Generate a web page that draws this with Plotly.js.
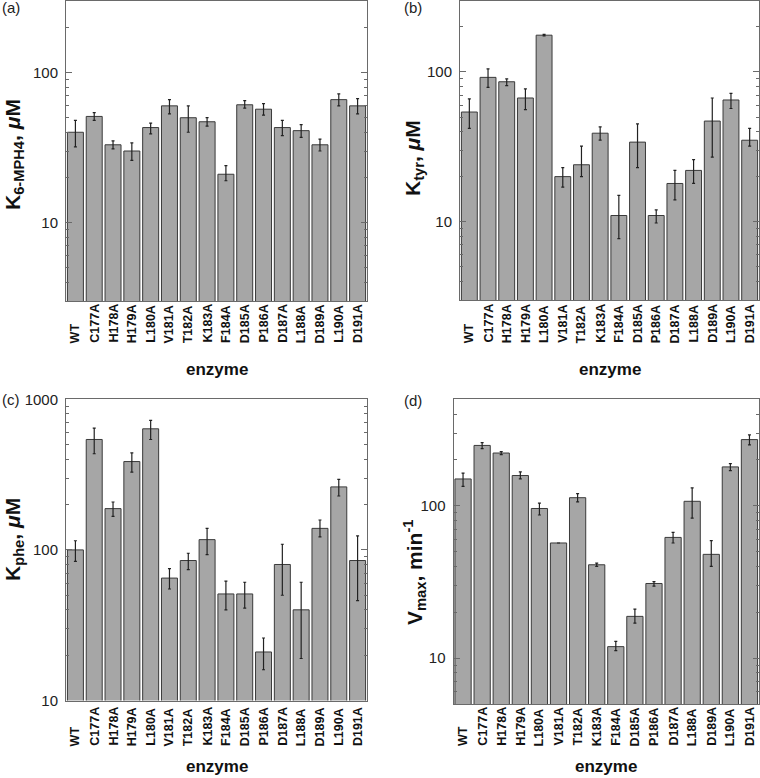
<!DOCTYPE html>
<html><head><meta charset="utf-8">
<script src="https://cdn.plot.ly/plotly-3.0.1.min.js"></script>
<style>html,body{margin:0;padding:0;background:#fff}#chart{width:760px;height:778px}</style>
</head><body><div id="chart"></div>
<script>
const enzymes = ['WT','C177A','H178A','H179A','L180A','V181A','T182A','K183A','F184A','D185A','P186A','D187A','L188A','D189A','L190A','D191A'];

// (a) K 6-MPH4 (µM): value, error-bar top, error-bar bottom
const kMph4   = [40, 51, 33, 30, 43, 60, 50, 47, 21, 61, 57, 43, 41, 33, 66, 60];
const kMph4Hi = [48, 54, 35, 34, 46, 66, 60, 50, 24, 65, 62, 48, 45, 36, 72, 67];
const kMph4Lo = [32, 48, 31, 26, 39, 53, 40, 44, 19, 58, 52, 38, 37, 30, 60, 53];

// (b) K tyr (µM)
const kTyr   = [54, 92, 86, 67, 176, 20, 24, 39, 11, 34, 11, 18, 22, 47, 65, 35];
const kTyrHi = [66, 105, 90, 77, 178, 23, 32, 43, 15, 45, 12, 22, 26, 67, 72, 42];
const kTyrLo = [42, 79, 81, 56, 174, 17, 20, 35, 7.7, 23, 9.8, 14, 18, 27, 57, 32];

// (c) K phe (µM)
const kPhe   = [100, 541, 188, 386, 637, 65, 85, 117, 51, 51, 21, 80, 40, 139, 262, 85];
const kPheHi = [115, 644, 208, 441, 724, 75, 95, 139, 62, 61, 26, 109, 61, 158, 294, 124];
const kPheLo = [84, 435, 167, 328, 541, 55, 74, 93, 40, 41, 16, 50, 19, 122, 228, 46];

// (d) Vmax (min^-1)
const vmax   = [150, 249, 222, 158, 96, 57, 113, 41, 11.9, 18.8, 30.9, 62, 107, 48, 180, 272];
const vmaxHi = [164, 260, 227, 167, 104, 57, 120, 42, 12.9, 21, 31.8, 67, 131, 59, 189, 292];
const vmaxLo = [134, 237, 217, 150, 87, 57, 106, 40, 11.2, 17, 29.7, 57, 83, 40, 170, 251];

// y-axis tick values
const majorAB = [10, 100];
const majorC = [10, 100, 1000];
const majorD = [10, 100];
const minorAB = [4,5,6,7,8,9,20,30,40,50,60,70,80,90,200,300];
const minorC = [20,30,40,50,60,70,80,90,200,300,400,500,600,700,800,900];
const minorD = [6,7,8,9,20,30,40,50,60,70,80,90,200,300,400,500];

const W = 760, H = 778;
const px = v => v / W;
const py = v => 1 - v / H;

function barTrace(vals, hi, lo, xa, ya) {
  return {
    type: 'bar', x: enzymes, y: vals, xaxis: xa, yaxis: ya,
    marker: {color: '#a6a6a6', line: {color: '#3a3a3a', width: 1}},
    error_y: {type: 'data', symmetric: false,
      array: hi.map((h, i) => h - vals[i]),
      arrayminus: lo.map((l, i) => vals[i] - l),
      color: '#222', thickness: 1.2, width: 1.5},
    hoverinfo: 'x+y', showlegend: false
  };
}

const data = [
  barTrace(kMph4, kMph4Hi, kMph4Lo, 'x', 'y'),
  barTrace(kTyr, kTyrHi, kTyrLo, 'x2', 'y2'),
  barTrace(kPhe, kPheHi, kPheLo, 'x3', 'y3'),
  barTrace(vmax, vmaxHi, vmaxLo, 'x4', 'y4')
];

const lineCol = '#6a6a6a';
const fam = 'Liberation Sans, Arial, sans-serif';
function xAx(d0, d1, anchor) {
  return {domain: [px(d0), px(d1)], anchor: anchor, type: 'category',
    range: [-0.5, 15.5], showticklabels: false, ticks: '',
    showline: true, mirror: true, linecolor: lineCol, linewidth: 1,
    showgrid: false, zeroline: false, fixedrange: true};
}
function yAx(top, bot, anchor, rng, majors) {
  return {domain: [py(bot), py(top)], anchor: anchor, type: 'log',
    range: rng.map(Math.log10), tickmode: 'array', tickvals: majors,
    ticktext: majors.map(String),
    ticks: 'inside', ticklen: 6, tickcolor: lineCol, tickwidth: 1,
    showline: true, mirror: 'allticks', linecolor: lineCol, linewidth: 1,
    showgrid: false, zeroline: false, ticklabelstandoff: 4,
    tickfont: {family: fam, size: 15, color: '#222'},
    fixedrange: true};
}
function yMinor(top, bot, anchor, over, rng, minors) {
  return {domain: [py(bot), py(top)], anchor: anchor, overlaying: over, side: 'left', type: 'log',
    range: rng.map(Math.log10), tickmode: 'array', tickvals: minors, showticklabels: false,
    ticks: 'inside', ticklen: 3, tickcolor: lineCol, tickwidth: 1,
    showline: false, mirror: 'allticks', showgrid: false, zeroline: false, fixedrange: true};
}

const lblFont = {family: fam, size: 12.5, color: '#111', weight: 'bold'};
const ttlFont = {family: fam, size: 17, color: '#111', weight: 'bold'};
const yFont = {family: fam, size: 21, color: '#111', weight: 'bold'};
const pFont = {family: fam, size: 15, color: '#222'};

const annotations = [];
[['x', 345], ['x2', 345], ['x3', 748], ['x4', 748]].forEach(([xr, yb]) => {
  enzymes.forEach(e => annotations.push({xref: xr, x: e, yref: 'paper', y: py(yb),
    yanchor: 'bottom', xanchor: 'center', textangle: -90, text: '<b>' + e + '</b>',
    showarrow: false, font: lblFont}));
});
// x titles
[[216.5, 369], [609.5, 369], [216.5, 766], [606, 766]].forEach(([x, y]) => annotations.push({
  xref: 'paper', yref: 'paper', x: px(x), y: py(y), xanchor: 'center', yanchor: 'middle',
  text: '<b>enzyme</b>', showarrow: false, font: ttlFont}));
// y titles
[[14, 155, 'K<sub>6-MPH4</sub>, <i>μ</i>M'], [414, 158, 'K<sub>tyr</sub>, <i>μ</i>M'],
 [14, 540, 'K<sub>phe</sub>, <i>μ</i>M'], [414, 572, 'V<sub>max</sub>, min<sup>-1</sup>']].forEach(([x, y, t]) => annotations.push({
  xref: 'paper', yref: 'paper', x: px(x), y: py(y), xanchor: 'center', yanchor: 'middle',
  textangle: -90, text: '<b>' + t + '</b>', showarrow: false, font: yFont}));
// panel letters
[[0, 8, '(a)'], [402, 7, '(b)'], [0, 399, '(c)'], [402, 400, '(d)']].forEach(([x, y, t]) => annotations.push({
  xref: 'paper', yref: 'paper', x: px(x), y: py(y), xanchor: 'left', yanchor: 'middle',
  text: t, showarrow: false, font: pFont}));

const layout = {
  width: W, height: H, margin: {l: 0, r: 0, t: 0, b: 0},
  paper_bgcolor: '#fff', plot_bgcolor: '#fff',
  bargap: 0.15, showlegend: false,
  xaxis: xAx(66, 367, 'y'),
  yaxis: yAx(1, 301, 'x', [3, 300], majorAB),
  xaxis2: xAx(460, 759, 'y2'),
  yaxis2: yAx(0.5, 300, 'x2', [3, 300], majorAB),
  xaxis3: xAx(66, 367, 'y3'),
  yaxis3: yAx(399.3, 700.5, 'x3', [10, 1000], majorC),
  xaxis4: xAx(453.5, 759, 'y4'),
  yaxis4: yAx(399.3, 704, 'x4', [5, 500], majorD),
  yaxis5: yMinor(1, 301, 'x', 'y', [3, 300], minorAB),
  yaxis6: yMinor(0.5, 300, 'x2', 'y2', [3, 300], minorAB),
  yaxis7: yMinor(399.3, 700.5, 'x3', 'y3', [10, 1000], minorC),
  yaxis8: yMinor(399.3, 704, 'x4', 'y4', [5, 500], minorD),
  annotations: annotations
};

// invisible helper traces so the minor-tick axes are drawn
['y5','y6','y7','y8'].forEach((ya, i) => data.push({type: 'scatter', x: [], y: [],
  xaxis: ['x','x2','x3','x4'][i], yaxis: ya, hoverinfo: 'skip', showlegend: false}));

Plotly.newPlot('chart', data, layout, {displayModeBar: false, staticPlot: true});
</script>
</body></html>
